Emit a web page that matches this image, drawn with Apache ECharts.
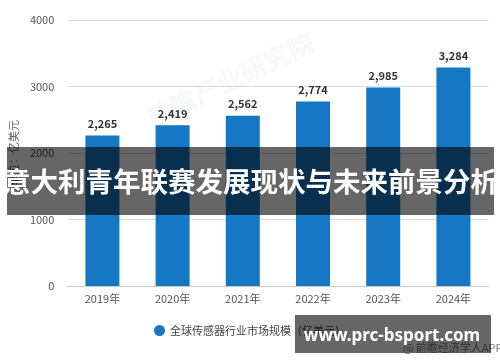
<!DOCTYPE html>
<html>
<head>
<meta charset="utf-8">
<script src="https://cdn.jsdelivr.net/npm/echarts@6/dist/echarts.min.js"></script>
<style>html,body{margin:0;padding:0;background:#fff;}#c{width:500px;height:362px;}</style>
</head>
<body>
<div id="c"></div>
<script>
var categories = ['2019年', '2020年', '2021年', '2022年', '2023年', '2024年'];
var values = [2265, 2419, 2562, 2774, 2985, 3284];
var seriesName = '全球传感器行业市场规模（亿美元）';
var yAxisName = '单位：亿美元';
var bannerTitle = '意大利青年联赛发展现状与未来前景分析';
var siteText = 'www.prc-bsport.com';
var sourceText = '@ 前瞻经济学人APP';

var chart = echarts.init(document.getElementById('c'));
var font = '"Noto Sans CJK SC", "Noto Sans", sans-serif';
chart.setOption({
  animation: false,
  textStyle: { fontFamily: font },
  grid: { left: 62.5, right: 11.5, top: 20, bottom: 76 },
  legend: {
    data: [seriesName],
    top: 320,
    left: 'center',
    icon: 'circle',
    itemWidth: 11,
    itemHeight: 11,
    itemGap: 6,
    textStyle: { color: '#444', fontSize: 11, fontFamily: font }
  },
  xAxis: {
    type: 'category',
    data: categories,
    axisLine: { lineStyle: { color: '#c8c8c8' } },
    axisTick: { alignWithLabel: true, length: 4, lineStyle: { color: '#c8c8c8' } },
    axisLabel: { color: '#555', fontSize: 11, margin: 7 }
  },
  yAxis: {
    type: 'value',
    min: 0, max: 4000, interval: 1000,
    name: yAxisName,
    nameLocation: 'middle',
    nameGap: 46,
    nameRotate: 90,
    nameTextStyle: { color: '#666', fontSize: 11 },
    axisLine: { show: false },
    axisTick: { show: false },
    axisLabel: { color: '#555', fontSize: 11, margin: 13, formatter: function (v) { return String(v); } },
    splitLine: { lineStyle: { color: '#dcdcdc' } }
  },
  series: [{
    name: seriesName,
    type: 'bar',
    data: values,
    barWidth: 34,
    itemStyle: { color: '#1677c4' },
    label: {
      show: true,
      position: 'top',
      distance: 6,
      color: '#333',
      fontWeight: 'bold',
      fontSize: 11,
      formatter: function (p) { return p.value.toLocaleString('en-US'); }
    }
  }],
  graphic: [
    {
      type: 'text', left: 403, top: 342, z: 5,
      style: { text: sourceText, fill: '#777', fontSize: 11, fontFamily: font }
    },
    {
      type: 'text', x: 230, y: 80, rotation: Math.PI / 7, z: 1, silent: true,
      style: { text: '前瞻产业研究院', fill: 'rgba(190,200,215,0.12)', fontSize: 26, fontWeight: 'bold', fontFamily: font, align: 'center', verticalAlign: 'middle' }
    },
    {
      type: 'rect', z: 10,
      shape: { x: 7, y: 147, width: 487, height: 68 },
      style: { fill: 'rgba(0,0,0,0.6)' }
    },
    {
      type: 'text', z: 11,
      x: 250.5, y: 182,
      style: { text: bannerTitle, fill: '#fff', font: 'bold 27.5px "Noto Sans CJK SC", sans-serif', align: 'center', verticalAlign: 'middle' }
    },
    {
      type: 'rect', z: 10,
      shape: { x: 295, y: 315, width: 196, height: 38 },
      style: { fill: 'rgba(0,0,0,0.6)' }
    },
    {
      type: 'text', z: 11,
      x: 392, y: 336,
      style: { text: siteText, fill: '#fff', font: 'bold 17px "Noto Sans", sans-serif', align: 'center', verticalAlign: 'middle' }
    }
  ]
});
</script>
</body>
</html>
